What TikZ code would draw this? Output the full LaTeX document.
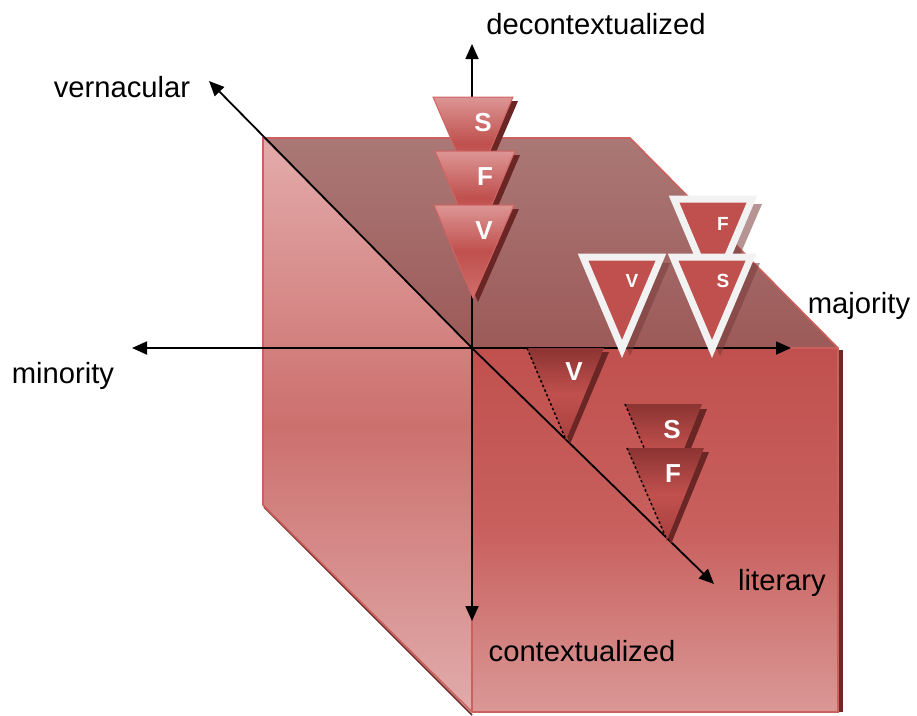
\documentclass[tikz,border=0pt]{standalone}
\usepackage{fontspec}
\setmainfont{Liberation Sans}
\usetikzlibrary{arrows.meta}
\definecolor{edgered}{HTML}{CB605D}
\definecolor{darkedge}{HTML}{6E2826}
\definecolor{shadowc}{HTML}{6A2624}
\definecolor{basered}{HTML}{C0504D}
\definecolor{whiteb}{HTML}{F2F2F2}
\begin{document}
\begin{tikzpicture}[x=1pt,y=-1pt,
  axis/.style={line width=1.8pt,-{Triangle[length=15pt,width=13pt]}},
  axlabel/.style={font=\fontsize{29.2}{31}\selectfont,text=black,inner sep=0pt},
  letter/.style={font=\fontsize{26}{28}\selectfont\bfseries,text=white,inner sep=0pt},
  smallletter/.style={font=\fontsize{19}{21}\selectfont\bfseries,text=white,inner sep=0pt},
  toptri/.style={top color={rgb,255:red,220;green,150;blue,149},bottom color={rgb,255:red,207;green,110;blue,108},middle color=basered,draw={rgb,255:red,210;green,100;blue,98},line width=1pt},
  fronttri/.style={top color={rgb,255:red,140;green,52;blue,50},bottom color={rgb,255:red,168;green,64;blue,62},middle color=basered},
  whitetri/.style={fill=basered,draw=whiteb,line width=7pt,line join=miter},
  tshadow/.style={fill=shadowc},
  wshadow/.style={fill={rgb,255:red,120;green,60;blue,58},opacity=0.55},
  dashedge/.style={draw=black,line width=1.5pt,dash pattern=on 2.5pt off 2.5pt}
]
\useasboundingbox (0,0) rectangle (917,715);

% ---- cube ----
\path[top color={rgb,255:red,227;green,171;blue,170},bottom color={rgb,255:red,224;green,172;blue,171},middle color={rgb,255:red,204;green,112;blue,110}]
  (263,138) -- (472,348) -- (472,712) -- (263,505) -- cycle;
\path[top color=basered,bottom color={rgb,255:red,218;green,152;blue,150},middle color={rgb,255:red,200;green,96;blue,94}]
  (472,348) rectangle (838,712);
\path[top color={rgb,255:red,170;green,120;blue,118},bottom color={rgb,255:red,156;green,90;blue,88}]
  (263,138) -- (630,138) -- (838,348) -- (472,348) -- cycle;
\draw[darkedge,line width=1.6pt] (264,507) -- (472,715);
\draw[darkedge,line width=3.5pt] (841,350) -- (841,712);
\draw[edgered,line width=1.6pt,line join=miter]
  (263,505) -- (263,138) -- (630,138) -- (838,348) -- (838,712) -- (472,712) -- cycle;
\draw[edgered,line width=1.6pt] (472,712) -- (472,348) -- (838,348);

% ---- axes ----
\coordinate (O) at (472,348);
\coordinate (up) at (472,44);
\coordinate (down) at (472,621);
\coordinate (left) at (132,348);
\coordinate (right) at (791,348);
\coordinate (nw) at (209,81);
\coordinate (se) at (714,584);
\draw[axis] (O) -- (up);
\draw[axis] (O) -- (down);
\draw[axis] (O) -- (left);
\draw[axis] (O) -- (right);
\draw[axis] (O) -- (nw);
\draw[axis] (O) -- (se);

% ---- top stack (decontextualized) ----
\path[tshadow] (438,101) -- (518,101) -- (478,194) -- cycle;
\path[toptri] (433,97) -- (513,97) -- (473,190) -- cycle;
\path[tshadow] (440,155) -- (520,155) -- (480,248) -- cycle;
\path[toptri] (435,151) -- (515,151) -- (475,244) -- cycle;
\path[tshadow] (439,209) -- (519,209) -- (478,302) -- cycle;
\path[toptri] (434,205) -- (514,205) -- (473,298) -- cycle;
\node[letter] (s1) at (483,123) {S};
\node[letter] (f1) at (485,177) {F};
\node[letter] (v1) at (484,231) {V};

% ---- white bordered triangles ----
\path[wshadow] (680,204) -- (762,204) -- (721,299) -- cycle;
\path[whitetri] (674,199) -- (752,199) -- (713,291) -- cycle;
\node[smallletter] (f2) at (723,224) {F};
\path[wshadow] (590,263) -- (670,263) -- (630,356) -- cycle;
\path[whitetri] (583,257) -- (661,257) -- (622,349) -- cycle;
\node[smallletter] (v2) at (632,281) {V};
\path[wshadow] (680,263) -- (760,263) -- (720,356) -- cycle;
\path[whitetri] (673,257) -- (751,257) -- (712,349) -- cycle;
\node[smallletter] (s2) at (723,281) {S};

% ---- front triangles ----
\path[tshadow] (532,352) -- (609,352) -- (570,444) -- cycle;
\path[fronttri] (527,348) -- (604,348) -- (566,440) -- cycle;
\draw[dashedge] (527,348) -- (566,440);
\node[letter] (v3) at (574,372) {V};
\path[tshadow] (630,409) -- (707,409) -- (670,500) -- cycle;
\path[fronttri] (625,404) -- (702,404) -- (665,496) -- cycle;
\draw[dashedge] (625,404) -- (665,496);
\node[letter] (s3) at (672,430) {S};
\path[tshadow] (632,452) -- (709,452) -- (671,544) -- cycle;
\path[fronttri] (627,448) -- (704,448) -- (667,540) -- cycle;
\draw[dashedge] (627,448) -- (667,540);
\node[letter] (f3) at (673,474) {F};

% ---- labels ----
\node[axlabel] (lup) at (596,24) {decontextualized};
\node[axlabel] (lnw) at (122,87) {vernacular};
\node[axlabel] (lleft) at (63,376) {minority};
\node[axlabel] (lright) at (859,306) {majority};
\node[axlabel] (lse) at (782,583) {literary};
\node[axlabel] (ldown) at (582,651) {contextualized};
\end{tikzpicture}
\end{document}
